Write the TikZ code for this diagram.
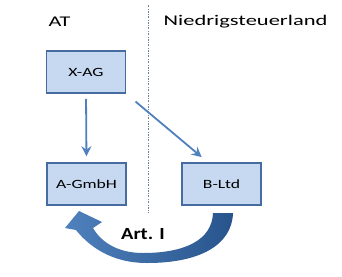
\documentclass[tikz,border=0pt]{standalone}
\usepackage{fontspec}
\usepackage{graphicx}
\setmainfont{Carlito}
\usetikzlibrary{arrows.meta,calc}
\definecolor{boxfill}{RGB}{198,217,241}
\definecolor{boxline}{RGB}{70,108,160}
\definecolor{arrowblue}{RGB}{79,129,189}
\definecolor{darkblue}{RGB}{40,84,140}
\definecolor{sepline}{RGB}{110,130,160}
\newcommand{\wtext}[2]{\scalebox{#1}[1]{#2}}
\tikzset{
  entity/.style={draw=boxline, fill=boxfill, line width=1.6pt, minimum width=79pt, minimum height=42pt, inner sep=0pt, font=\fontsize{12.6}{14}\selectfont},
  header/.style={inner sep=0pt, font=\fontsize{14.8}{17}\selectfont},
  link/.style={draw=arrowblue, line width=1.8pt, -{Stealth[length=10pt,width=10pt,inset=3.5pt]}},
}
\begin{document}
\begin{tikzpicture}[x=1pt,y=-1pt]
\useasboundingbox[fill=white] (0,0) rectangle (342,276);
\node[header] (at) at (59.5,22) {\wtext{1.5}{AT}};
\node[header] (nl) at (245.5,22) {\wtext{1.52}{Niedrigsteuerland}};
\coordinate (septop) at (148,5);
\coordinate (sepbot) at (148,213);
\draw[sepline, line width=0.7pt, dash pattern=on 2pt off 1.5pt on 0.6pt off 1.5pt] (septop) -- (sepbot);
\node[entity] (xag) at (86,72) {\wtext{1.4}{X-AG}};
\node[entity] (agmbh) at (86.5,184) {\wtext{1.4}{A-GmbH}};
\node[entity] (bltd) at (221.5,184) {\wtext{1.4}{B-Ltd}};
\draw[link, shorten <=5pt, shorten >=6pt] (xag.south) -- (agmbh.north);
\coordinate (btarget) at ($(bltd.north west)!0.33!(bltd.north east)$);
\draw[link, shorten <=12pt, shorten >=8pt] (xag.south east) -- (btarget);
% curved arrow
\shade[left color=arrowblue, right color=darkblue]
  (233,213) .. controls (232,245) and (200,263) .. (147,263)
  .. controls (110,263) and (88,245) .. (76,230)
  -- (65,228) -- (79,211) -- (102,222) -- (93,228)
  .. controls (100,240) and (115,253) .. (143,253)
  .. controls (185,253) and (212,240) .. (213,213) -- cycle;
\node[inner sep=0pt, font=\bfseries\fontsize{17}{20}\selectfont] (art) at (143,234) {\wtext{1.2}{Art. I}};
\end{tikzpicture}
\end{document}
